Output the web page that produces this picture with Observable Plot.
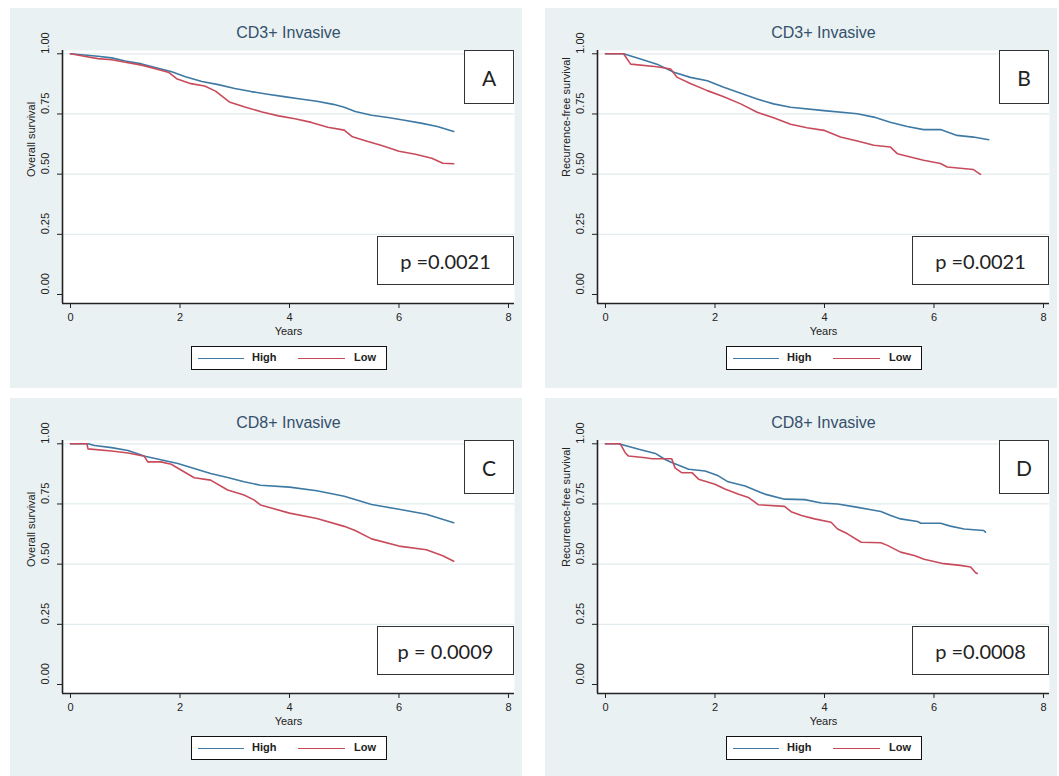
<!DOCTYPE html>
<html><head><meta charset="utf-8">
<script src="https://cdn.jsdelivr.net/npm/d3@7"></script>
<script src="https://cdn.jsdelivr.net/npm/@observablehq/plot@0.6"></script>
<style>
body{margin:0;background:#fff;width:1059px;height:776px;overflow:hidden;position:relative;font-family:"Liberation Sans",Arial,sans-serif}
.panel{position:absolute;width:512px;height:380px;background:#eaf1f3;overflow:hidden}
.panel svg{position:absolute;left:0;top:0}
.box{position:absolute;box-sizing:border-box;border:1.5px solid #333;background:#fff;display:flex;align-items:center;justify-content:center;font-family:Lato,"Open Sans",sans-serif;color:#222}
.legend{position:absolute;left:181px;top:338px;width:196px;height:24px;box-sizing:border-box;border:1.5px solid #111;background:#fff}
.legend .ln{position:absolute;top:10.5px;height:1.6px}
.legend .tx{position:absolute;top:4px;font-family:"Liberation Sans Narrow","Liberation Sans",Arial,sans-serif;font-weight:bold;font-size:11px;color:#222}
</style></head>
<body>
<script>
// ---- categories / labels ----
const panelLetters = ["A", "B", "C", "D"];
const titles = ["CD3+ Invasive", "CD3+ Invasive", "CD8+ Invasive", "CD8+ Invasive"];
const yLabels = ["Overall survival", "Recurrence-free survival", "Overall survival", "Recurrence-free survival"];
const pValues = ["p =0.0021", "p =0.0021", "p = 0.0009", "p =0.0008"];
const seriesNames = ["High", "Low"];
const xTicks = [0, 2, 4, 6, 8];
const yTicks = [0, 0.25, 0.5, 0.75, 1];
const xLabel = "Years";

// ---- series values (years, survival probability) ----
const aHighT = [0, 0.25, 0.5, 0.75, 1.0, 1.3, 1.6, 1.85, 2.1, 2.4, 2.7, 3.0, 3.3, 3.6, 3.9, 4.2, 4.5, 4.8, 5.0, 5.2, 5.5, 5.8, 6.1, 6.4, 6.7, 7.0];
const aHighS = [1.0, 0.995, 0.99, 0.983, 0.97, 0.958, 0.94, 0.925, 0.905, 0.885, 0.872, 0.856, 0.843, 0.832, 0.822, 0.812, 0.803, 0.79, 0.778, 0.76, 0.745, 0.735, 0.724, 0.712, 0.698, 0.677];
const aLowT = [0, 0.25, 0.5, 0.75, 1.0, 1.3, 1.6, 1.8, 1.95, 2.2, 2.45, 2.65, 2.9, 3.2, 3.5, 3.8, 4.1, 4.4, 4.7, 5.0, 5.15, 5.4, 5.7, 6.0, 6.3, 6.6, 6.8, 7.0];
const aLowS = [1.0, 0.99, 0.98, 0.975, 0.965, 0.953, 0.935, 0.922, 0.895, 0.876, 0.866, 0.845, 0.8, 0.778, 0.758, 0.742, 0.73, 0.715, 0.695, 0.683, 0.655, 0.638, 0.618, 0.595, 0.583, 0.566, 0.545, 0.543];

const bHighT = [0, 0.33, 0.64, 0.94, 1.25, 1.55, 1.86, 2.16, 2.47, 2.77, 3.07, 3.38, 3.99, 4.6, 4.9, 5.2, 5.51, 5.81, 6.12, 6.42, 6.72, 7.0];
const bHighS = [1.0, 1.0, 0.978, 0.957, 0.923, 0.902, 0.888, 0.861, 0.836, 0.812, 0.792, 0.778, 0.764, 0.751, 0.737, 0.716, 0.698, 0.685, 0.685, 0.661, 0.654, 0.643];
const bLowT = [0, 0.33, 0.46, 0.94, 1.19, 1.31, 1.55, 1.86, 2.16, 2.47, 2.77, 3.07, 3.38, 3.68, 3.99, 4.29, 4.6, 4.9, 5.2, 5.33, 5.81, 6.12, 6.24, 6.72, 6.85];
const bLowS = [1.0, 1.0, 0.957, 0.946, 0.937, 0.902, 0.877, 0.847, 0.822, 0.792, 0.757, 0.734, 0.707, 0.693, 0.682, 0.654, 0.638, 0.62, 0.613, 0.585, 0.558, 0.544, 0.53, 0.519, 0.499];

const cHighT = [0, 0.32, 0.44, 0.75, 1.05, 1.36, 1.65, 1.96, 2.26, 2.56, 2.87, 3.17, 3.47, 4.0, 4.5, 5.0, 5.5, 6.0, 6.5, 7.0];
const cHighS = [1.0, 1.0, 0.993, 0.984, 0.972, 0.948, 0.934, 0.918, 0.897, 0.877, 0.86, 0.842, 0.828, 0.82, 0.805, 0.782, 0.748, 0.728, 0.707, 0.672];
const cLowT = [0, 0.3, 0.32, 0.75, 1.05, 1.35, 1.41, 1.65, 1.84, 2.08, 2.26, 2.56, 2.87, 3.17, 3.35, 3.47, 4.0, 4.5, 5.0, 5.2, 5.5, 6.0, 6.5, 6.8, 7.0];
const cLowS = [1.0, 1.0, 0.979, 0.97, 0.962, 0.948, 0.925, 0.925, 0.915, 0.883, 0.859, 0.849, 0.808, 0.787, 0.767, 0.746, 0.712, 0.69, 0.657, 0.64, 0.605, 0.575, 0.56, 0.535, 0.512];

const dHighT = [0, 0.24, 0.61, 0.91, 1.09, 1.21, 1.52, 1.82, 2.06, 2.24, 2.55, 2.91, 3.27, 3.64, 3.94, 4.24, 4.61, 4.85, 5.03, 5.21, 5.39, 5.7, 5.76, 6.12, 6.3, 6.55, 6.91, 6.94];
const dHighS = [1.0, 1.0, 0.977, 0.96, 0.935, 0.922, 0.894, 0.887, 0.867, 0.842, 0.825, 0.791, 0.77, 0.768, 0.754, 0.75, 0.736, 0.726, 0.719, 0.702, 0.688, 0.677, 0.67, 0.67, 0.658, 0.646, 0.64, 0.633];
const dLowT = [0, 0.27, 0.36, 0.42, 0.73, 0.85, 1.21, 1.27, 1.39, 1.58, 1.7, 2.0, 2.18, 2.42, 2.61, 2.79, 3.27, 3.39, 3.58, 3.82, 4.12, 4.24, 4.42, 4.67, 5.03, 5.15, 5.39, 5.64, 5.82, 6.18, 6.48, 6.67, 6.76, 6.79];
const dLowS = [1.0, 1.0, 0.963, 0.949, 0.942, 0.938, 0.938, 0.90, 0.88, 0.88, 0.853, 0.832, 0.812, 0.791, 0.777, 0.747, 0.74, 0.718, 0.702, 0.688, 0.674, 0.646, 0.626, 0.591, 0.589, 0.578, 0.55, 0.536, 0.52, 0.502, 0.495, 0.488, 0.464, 0.461];

const lineColors = ["#3e79a3", "#c84b5b"];
const bgColor = "#eaf1f3";

const panelSeries = [
  [aHighT, aHighS, aLowT, aLowS],
  [bHighT, bHighS, bLowT, bLowS],
  [cHighT, cHighS, cLowT, cLowS],
  [dHighT, dHighS, dLowT, dLowS]
];

const xDom = [-0.146, 8.11];
const yDom = [-0.0374, 1.0137];
const fmt2 = d3.format(".2f");
const narrow = "'Liberation Sans Narrow','Liberation Sans',Arial,sans-serif";

function makePanel(k) {
  const [hT, hS, lT, lS] = panelSeries[k];
  const data = [
    ...hT.map((t, i) => ({t, s: hS[i], g: seriesNames[0]})),
    ...lT.map((t, i) => ({t, s: lS[i], g: seriesNames[1]}))
  ];
  return Plot.plot({
    width: 512, height: 380,
    marginLeft: 52, marginRight: 8, marginTop: 42, marginBottom: 85,
    style: {background: "transparent", fontFamily: narrow, overflow: "visible"},
    x: {domain: xDom, axis: null},
    y: {domain: yDom, axis: null},
    color: {domain: seriesNames, range: lineColors},
    marks: [
      Plot.frame({fill: "white", stroke: "none"}),
      Plot.gridY(yTicks.slice(1), {stroke: "#e2ebee", strokeOpacity: 1, strokeWidth: 1.2}),
      Plot.line(data, {x: "t", y: "s", z: "g", stroke: "g", strokeWidth: 1.6}),
      Plot.ruleY([yDom[0]], {stroke: "#222", strokeWidth: 1.6}),
      Plot.ruleX([xDom[0]], {stroke: "#222", strokeWidth: 1.6}),
      Plot.axisX({ticks: xTicks, tickSize: 5, tickPadding: 5, fontSize: 11, color: "#222", label: null, tickFormat: d3.format("d")}),
      Plot.axisY({ticks: yTicks, tickSize: 5, tickFormat: () => "", label: null, color: "#222"}),
      Plot.text(yTicks, {y: d => d, frameAnchor: "left", dx: -17, rotate: -90, text: d => fmt2(d), fontSize: 11, fill: "#222"}),
      Plot.text([yLabels[k]], {frameAnchor: "left", dx: -31, rotate: -90, text: d => d, fontSize: 11, fill: "#222"}),
      Plot.text([xLabel], {frameAnchor: "bottom", lineAnchor: "middle", dy: 28, text: d => d, fontSize: 11, fill: "#222"}),
      Plot.text([titles[k]], {frameAnchor: "top", lineAnchor: "middle", dy: -18, text: d => d, fontSize: 16, fill: "#34506b", fontFamily: "'Liberation Sans',Arial,sans-serif"})
    ]
  });
}

panelLetters.forEach((letter, k) => {
  const col = k % 2, row = Math.floor(k / 2);
  const panel = document.createElement("div");
  panel.className = "panel";
  panel.style.left = (10 + col * 535) + "px";
  panel.style.top = (8 + row * 390) + "px";
  panel.style.background = bgColor;
  panel.appendChild(makePanel(k));

  const lb = document.createElement("div");
  lb.className = "box";
  Object.assign(lb.style, {left: "454px", top: "42px", width: "50px", height: "54px", fontSize: "21px"});
  lb.textContent = letter;
  panel.appendChild(lb);

  const pb = document.createElement("div");
  pb.className = "box";
  Object.assign(pb.style, {left: "367px", top: "228px", width: "137px", height: "49px", fontSize: "20px"});
  pb.textContent = pValues[k];
  panel.appendChild(pb);

  const lg = document.createElement("div");
  lg.className = "legend";
  const items = [[6, 46, 60], [106, 47, 162]];
  seriesNames.forEach((name, i) => {
    const ln = document.createElement("div");
    ln.className = "ln";
    ln.style.left = items[i][0] + "px";
    ln.style.width = items[i][1] + "px";
    ln.style.background = lineColors[i];
    lg.appendChild(ln);
    const tx = document.createElement("div");
    tx.className = "tx";
    tx.style.left = items[i][2] + "px";
    tx.textContent = name;
    lg.appendChild(tx);
  });
  panel.appendChild(lg);

  document.body.appendChild(panel);
});
</script>
</body></html>
